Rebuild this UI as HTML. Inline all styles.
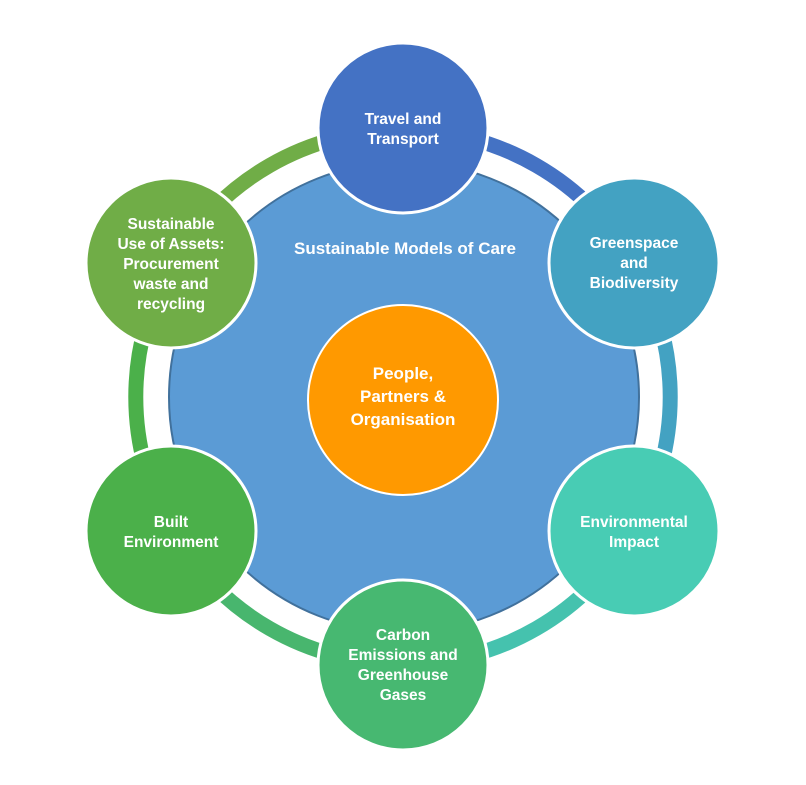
<!DOCTYPE html>
<html><head><meta charset="utf-8"><style>
html,body{margin:0;padding:0;background:#fff;width:806px;height:785px;overflow:hidden}
text{font-family:"Liberation Sans",sans-serif;font-weight:bold;fill:#fff;text-anchor:middle}
</style></head><body>
<svg width="806" height="785" viewBox="0 0 806 785" xmlns="http://www.w3.org/2000/svg">
<g fill="none" stroke-width="15">
<path d="M403 130 A266 266 0 0 1 634 263" stroke="#4472C4"/>
<path d="M634 263 A266 266 0 0 1 634 531" stroke="#43A2C2"/>
<path d="M634 531 A266 266 0 0 1 403 664" stroke="#45C2AE"/>
<path d="M403 664 A266 266 0 0 1 172 531" stroke="#48B66E"/>
<path d="M172 531 A266 266 0 0 1 172 263" stroke="#4BB04A"/>
<path d="M172 263 A266 266 0 0 1 403 130" stroke="#70AD47"/>
</g>
<circle cx="404" cy="397" r="235" fill="#5B9BD5" stroke="#41719C" stroke-width="2"/>
<g stroke="#fff" stroke-width="3">
<circle cx="403" cy="128" r="85" fill="#4472C4"/>
<circle cx="634" cy="263" r="85" fill="#43A2C2"/>
<circle cx="634" cy="531" r="85" fill="#48CCB4"/>
<circle cx="403" cy="665" r="85" fill="#47B871"/>
<circle cx="171" cy="531" r="85" fill="#4BB04A"/>
<circle cx="171" cy="263" r="85" fill="#70AD47"/>
<circle cx="403" cy="400" r="95" fill="#FF9900" stroke-width="2"/>
</g>
<g font-size="15.5">
<text x="403" y="124">Travel and</text><text x="403" y="144">Transport</text>
<text x="634" y="248">Greenspace</text><text x="634" y="268">and</text><text x="634" y="288">Biodiversity</text>
<text x="634" y="527">Environmental</text><text x="634" y="547">Impact</text>
<text x="403" y="640">Carbon</text><text x="403" y="660">Emissions and</text><text x="403" y="680">Greenhouse</text><text x="403" y="700">Gases</text>
<text x="171" y="527">Built</text><text x="171" y="547">Environment</text>
<text x="171" y="229">Sustainable</text><text x="171" y="249">Use of Assets:</text><text x="171" y="269">Procurement</text><text x="171" y="289">waste and</text><text x="171" y="309">recycling</text>
<text x="405" y="254" font-size="17">Sustainable Models of Care</text>
<text x="403" y="379" font-size="17">People,</text><text x="403" y="402" font-size="17">Partners &amp;</text><text x="403" y="425" font-size="17">Organisation</text>
</g>
</svg>
</body></html>
